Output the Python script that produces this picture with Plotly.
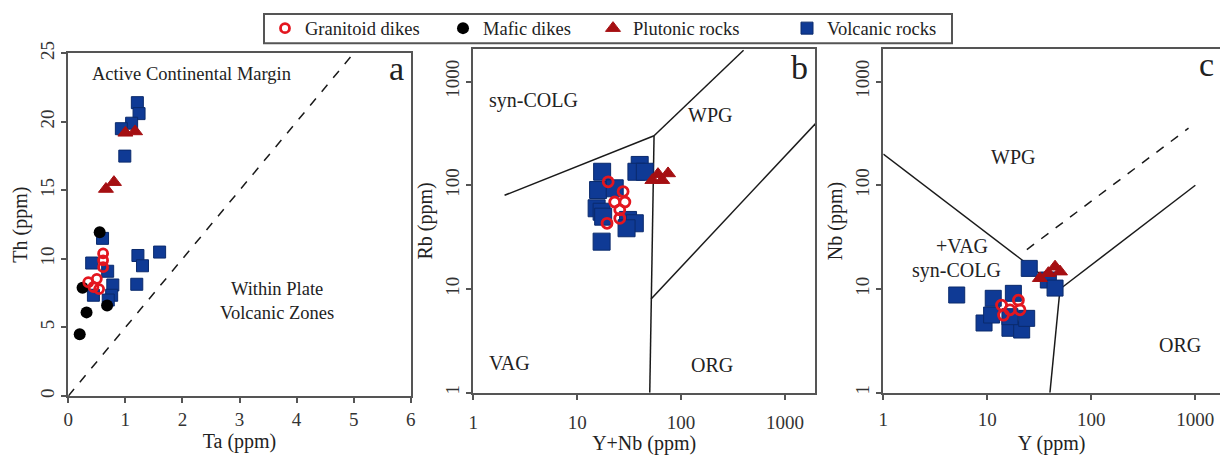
import numpy as np
import plotly.graph_objects as go

W, H = 1220, 455
FONT = "Liberation Serif, Times New Roman, Times, DejaVu Serif, serif"

# ---------------- data: panel a (Th vs Ta) ----------------
a_granitoid_ta = [0.61, 0.61, 0.61, 0.35, 0.44, 0.54, 0.50]
a_granitoid_th = [10.4, 9.9, 9.4, 8.3, 7.95, 7.8, 8.55]
a_mafic_ta = [0.20, 0.32, 0.25, 0.55, 0.68]
a_mafic_th = [4.5, 6.1, 7.9, 11.95, 6.6]
a_plutonic_ta = [1.00, 1.17, 0.66, 0.80]
a_plutonic_th = [19.2, 19.3, 15.1, 15.6]
a_volcanic_ta = [1.21, 1.24, 1.11, 0.93, 0.99, 0.60, 0.41, 1.22, 1.30, 1.60,
                 1.20, 0.69, 0.78, 0.76, 0.44, 0.70]
a_volcanic_th = [21.4, 20.6, 19.9, 19.5, 17.5, 11.5, 9.7, 10.25, 9.5, 10.5,
                 8.15, 9.1, 8.1, 7.35, 7.35, 7.0]
a_boundary_ta = [0, 5]
a_boundary_th = [0, 25]

# ---------------- data: panel b (Rb vs Y+Nb) ----------------
b_granitoid_ynb = [19.9, 27.7, 23.0, 28.8, 25.7, 25.7, 19.4]
b_granitoid_rb = [108, 87, 69, 69, 58, 48, 43]
b_plutonic_ynb = [60, 75, 66, 53]
b_plutonic_rb = [128, 130, 112, 112]
b_volcanic_ynb = [17.4, 15.9, 23.0, 15.4, 17.2, 17.8, 17.2, 40.0, 37.2, 44.8,
                  30.9, 35.9, 29.9]
b_volcanic_rb = [135, 90, 93.5, 60, 55.6, 49.8, 28.6, 157, 135, 135,
                 46.3, 43, 38.5]
b_syncolg_x, b_syncolg_y = [2, 55], [80, 300]
b_wpg_x, b_wpg_y = [55, 400], [300, 2000]
b_vag_x, b_vag_y = [50, 55], [1, 300]
b_org_x, b_org_y = [51.5, 2000], [8, 400]

# ---------------- data: panel c (Nb vs Y) ----------------
c_granitoid_y = [13.7, 19.9, 20.6, 14.3, 16.5]
c_granitoid_nb = [7.0, 7.8, 6.3, 5.6, 6.3]
c_plutonic_y = [32, 38.6, 44.8, 50]
c_plutonic_nb = [12.7, 14.2, 16.4, 14.7]
c_volcanic_y = [5.08, 25.3, 38.6, 44.8, 11.4, 17.8, 9.3, 11.0, 16.5, 21.4, 23.9, 16.5]
c_volcanic_nb = [8.75, 15.8, 12.2, 10.2, 8.13, 9.08, 4.7, 5.61, 4.18, 4.02, 5.21, 5.41]
c_wpg_x, c_wpg_y = [1, 50], [200, 10]
c_org_x, c_org_y = [50, 1000], [10, 100]
c_vag_x, c_vag_y = [40, 50], [1, 10]
c_dash_x, c_dash_y = [24, 860], [24, 355]

log_ticks = [1, 10, 100, 1000]
lin_ticks_ta = [0, 1, 2, 3, 4, 5, 6]
lin_ticks_th = [0, 5, 10, 15, 20, 25]

# ---------------- styles ----------------
C_VOL, C_VOL_LINE = "#0f3a95", "#0a2a6c"
C_PLU = "#a50f12"
C_GRA = "#e3161f"
C_MAF = "#000000"
AX = "#555555"
TXT = "#222222"

fig = go.Figure()


def line(x, y, xa, ya, dash="solid"):
    fig.add_trace(go.Scatter(x=x, y=y, xaxis=xa, yaxis=ya, mode="lines",
                             line=dict(color="#1a1a1a", width=1.5, dash=dash),
                             showlegend=False, hoverinfo="skip"))


def pts(x, y, xa, ya, kind, size, legend=None):
    if kind == "vol":
        m = dict(symbol="square", size=size, color=C_VOL,
                 line=dict(color=C_VOL_LINE, width=1))
        name = "Volcanic rocks"
    elif kind == "plu":
        m = dict(symbol="triangle-up", size=size, color=C_PLU,
                 line=dict(color=C_PLU, width=1))
        name = "Plutonic rocks"
    elif kind == "maf":
        m = dict(symbol="circle", size=size, color=C_MAF,
                 line=dict(color=C_MAF, width=0))
        name = "Mafic dikes"
    else:
        m = dict(symbol="circle-open", size=size, color=C_GRA,
                 line=dict(color=C_GRA, width=2.8))
        name = "Granitoid dikes"
    kw = dict(showlegend=legend is not None)
    if legend is not None:
        kw["legend"] = legend
    fig.add_trace(go.Scatter(x=x, y=y, xaxis=xa, yaxis=ya, mode="markers",
                             marker=m, name=name, **kw))


# panel a
line(a_boundary_ta, a_boundary_th, "x", "y", dash="dash")
pts(a_volcanic_ta, a_volcanic_th, "x", "y", "vol", 12, "legend4")
pts(a_plutonic_ta, a_plutonic_th, "x", "y", "plu", 13, "legend3")
pts(a_mafic_ta, a_mafic_th, "x", "y", "maf", 12, "legend2")
pts(a_granitoid_ta, a_granitoid_th, "x", "y", "gra", 9, "legend")

# panel b
for lx, ly in [(b_syncolg_x, b_syncolg_y), (b_wpg_x, b_wpg_y),
               (b_vag_x, b_vag_y), (b_org_x, b_org_y)]:
    line(lx, ly, "x2", "y2")
pts(b_volcanic_ynb, b_volcanic_rb, "x2", "y2", "vol", 17)
pts(b_plutonic_ynb, b_plutonic_rb, "x2", "y2", "plu", 13)
pts(b_granitoid_ynb, b_granitoid_rb, "x2", "y2", "gra", 10)

# panel c
for lx, ly in [(c_wpg_x, c_wpg_y), (c_org_x, c_org_y), (c_vag_x, c_vag_y)]:
    line(lx, ly, "x3", "y3")
line(c_dash_x, c_dash_y, "x3", "y3", dash="dash")
pts(c_volcanic_y, c_volcanic_nb, "x3", "y3", "vol", 16)
pts(c_plutonic_y, c_plutonic_nb, "x3", "y3", "plu", 13)
pts(c_granitoid_y, c_granitoid_nb, "x3", "y3", "gra", 10)

# ---------------- axes ----------------
tickfont = dict(family=FONT, size=19, color="#333333")
titlefont = dict(family=FONT, size=20, color=TXT)
base = dict(showline=True, linecolor=AX, linewidth=2, ticks="outside",
            ticklen=5, tickwidth=1.5, tickcolor=AX, showgrid=False,
            zeroline=False, tickfont=tickfont, title_font=titlefont)


def px_x(p):
    return p / W


def px_y(p):
    return (H - p) / H


fig.update_layout(
    xaxis=dict(base, domain=[px_x(68.3), px_x(410.7)], range=[0, 6],
               tickvals=lin_ticks_ta, mirror=True, anchor="y",
               title=dict(text="Ta (ppm)", standoff=0)),
    yaxis=dict(base, domain=[px_y(396), px_y(53.3)], range=[0, 25],
               tickvals=lin_ticks_th, tickangle=-90, mirror=True, anchor="x",
               title=dict(text="Th (ppm)", standoff=4)),
    xaxis2=dict(base, type="log", domain=[px_x(473.3), px_x(815)],
                range=[0, 3.29], tickvals=log_ticks, ticktext=[str(v) for v in log_ticks],
                mirror=True, anchor="y2", ticklabelstandoff=6,
                title=dict(text="Y+Nb (ppm)", standoff=8)),
    yaxis2=dict(base, type="log", domain=[px_y(392.7), px_y(49.3)],
                range=[0, 3.311], tickvals=log_ticks, ticktext=[str(v) for v in log_ticks],
                tickangle=-90, mirror=True, anchor="x2",
                title=dict(text="Rb (ppm)", standoff=4)),
    xaxis3=dict(base, type="log", domain=[px_x(883.3), 1.0],
                range=[0, 3.237], tickvals=log_ticks, ticktext=[str(v) for v in log_ticks],
                mirror=True, anchor="y3", ticklabelstandoff=3,
                title=dict(text="Y (ppm)", standoff=9)),
    yaxis3=dict(base, type="log", domain=[px_y(392.7), px_y(49.3)],
                range=[0, 3.311], tickvals=log_ticks, ticktext=[str(v) for v in log_ticks],
                tickangle=-90, mirror=False, anchor="x3",
                title=dict(text="Nb (ppm)", standoff=4)),
)

# ---------------- field labels ----------------
def lab(text, x, y, xa, ya, size=19, log=False):
    if log:
        x, y = np.log10(x), np.log10(y)
    fig.add_annotation(text=text, x=x, y=y, xref=xa, yref=ya, showarrow=False,
                       font=dict(family=FONT, size=size, color=TXT))


lab("Active Continental Margin", 2.16, 23.5, "x", "y", 18.5)
lab("Within Plate<br>Volcanic Zones", 3.66, 6.95, "x", "y", 18.5)
lab("a", 5.75, 23.9, "x", "y", 34)

lab("syn-COLG", 3.78, 650, "x2", "y2", 20, log=True)
lab("WPG", 190, 477, "x2", "y2", 20, log=True)
lab("VAG", 2.22, 1.92, "x2", "y2", 20, log=True)
lab("ORG", 197, 1.85, "x2", "y2", 20, log=True)
lab("b", 10 ** 3.14, 10 ** 3.14, "x2", "y2", 34, log=True)

lab("WPG", 17.8, 189, "x3", "y3", 20, log=True)
lab("+VAG", 5.68, 26, "x3", "y3", 20, log=True)
lab("syn-COLG", 5.08, 15.2, "x3", "y3", 20, log=True)
lab("ORG", 716, 2.88, "x3", "y3", 20, log=True)
lab("c", 10 ** 3.11, 10 ** 3.16, "x3", "y3", 34, log=True)

# ---------------- legend: frame + four single-entry legends ----------------
fig.add_shape(type="rect", xref="paper", yref="paper",
              x0=px_x(264), x1=px_x(952), y0=px_y(43.3), y1=px_y(14),
              line=dict(color=AX, width=2), fillcolor="rgba(0,0,0,0)")
leg_font = dict(family=FONT, size=18.5, color=TXT)
leg_common = dict(orientation="h", yanchor="middle", xanchor="left",
                  y=px_y(28.6), bgcolor="rgba(0,0,0,0)", borderwidth=0,
                  font=leg_font, itemclick=False, itemdoubleclick=False)
fig.update_layout(
    legend=dict(leg_common, x=px_x(265)),
    legend2=dict(leg_common, x=px_x(443)),
    legend3=dict(leg_common, x=px_x(593)),
    legend4=dict(leg_common, x=px_x(787)),
)

fig.update_layout(width=W, height=H,
                  margin=dict(l=0, r=0, t=0, b=0, autoexpand=False),
                  paper_bgcolor="white", plot_bgcolor="white",
                  font=dict(family=FONT, color=TXT))

fig.write_html("out.html")
